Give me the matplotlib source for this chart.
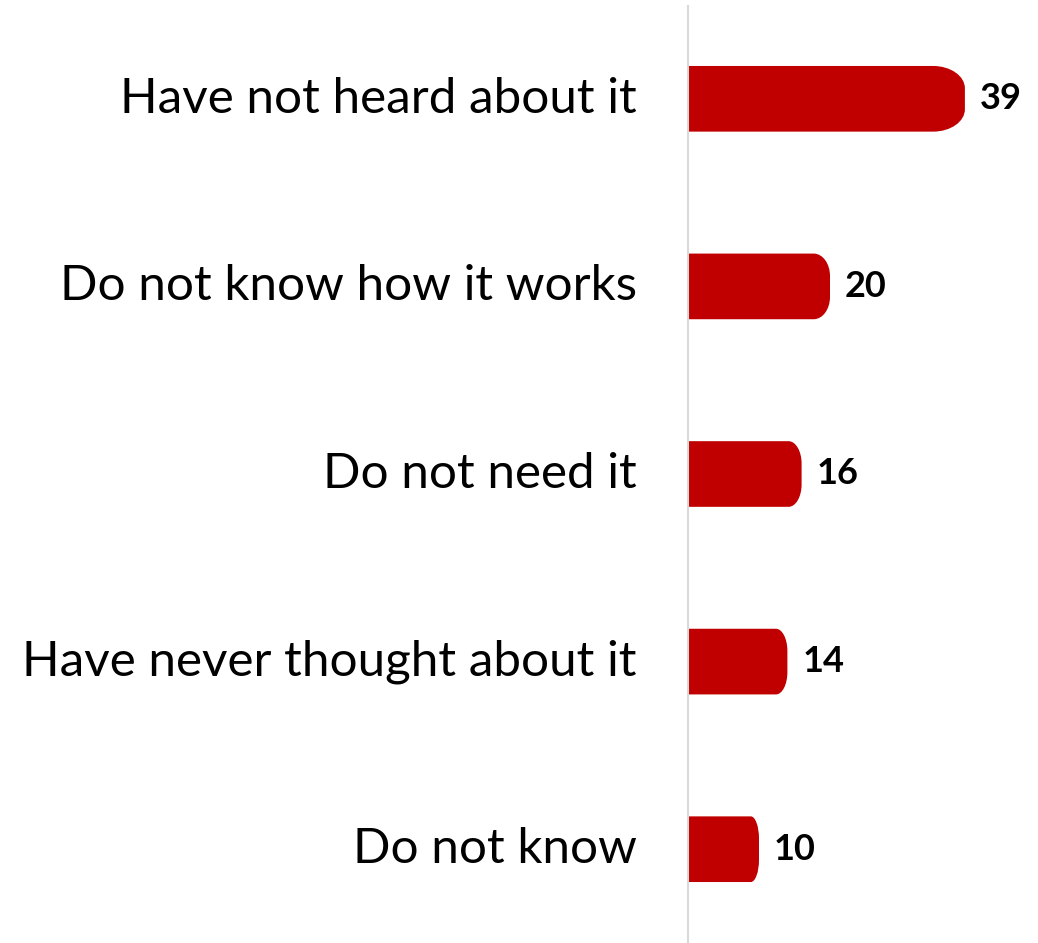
import matplotlib
matplotlib.use("Agg")
import matplotlib.pyplot as plt
from matplotlib.path import Path
from matplotlib.patches import PathPatch

categories = [
    "Have not heard about it",
    "Do not know how it works",
    "Do not need it",
    "Have never thought about it",
    "Do not know",
]
values = [39, 20, 16, 14, 10]

W, H = 1038, 943
fig = plt.figure(figsize=(W / 100, H / 100), dpi=100)
ax = fig.add_axes([688 / W, 0, (W - 688) / W, 938 / H])
px_per_unit = 7.1
ax.set_xlim(0, (W - 688) / px_per_unit)
ax.set_ylim(len(categories) - 0.5, -0.5)
ax.axis("off")

bar_h = 0.35
K = 0.5523


def rounded_bar(y, length, h):
    """Bar starting at 0 with an elliptical rounded right end."""
    rx = 0.115 * length
    ry = 0.34 * h
    top, bot = y - h / 2, y + h / 2
    x1 = length
    verts = [
        (0, top), (x1 - rx, top),
        (x1 - rx + K * rx, top), (x1, top + ry - K * ry), (x1, top + ry),
        (x1, bot - ry),
        (x1, bot - ry + K * ry), (x1 - rx + K * rx, bot), (x1 - rx, bot),
        (0, bot), (0, top),
    ]
    codes = [
        Path.MOVETO, Path.LINETO,
        Path.CURVE4, Path.CURVE4, Path.CURVE4,
        Path.LINETO,
        Path.CURVE4, Path.CURVE4, Path.CURVE4,
        Path.LINETO, Path.CLOSEPOLY,
    ]
    return PathPatch(Path(verts, codes), facecolor="#C00000", edgecolor="none")


for i, (cat, v) in enumerate(zip(categories, values)):
    ax.add_patch(rounded_bar(i, v, bar_h))
    ax.text(v + 15 / px_per_unit, i, str(v), ha="left", va="center",
            fontsize=26, fontweight="bold", family="Lato", color="black")
    fig.text(637 / W, 1 - (5 + 187.6 * (i + 0.5)) / H, cat, ha="right",
             va="center", fontsize=35.6, family="Lato", color="black")

ax.plot([0, 0], [-0.5, len(categories) - 0.5], color="#D9D9D9", lw=1.5,
        clip_on=False, solid_capstyle="butt")

fig.savefig("out.png", dpi=100, facecolor="white")
